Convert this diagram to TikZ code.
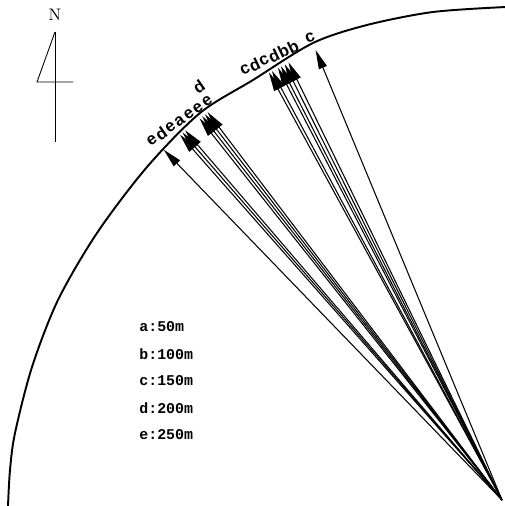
\documentclass[tikz,border=0pt]{standalone}
\usepackage{fontspec}
\usepackage{tikz}
\usetikzlibrary{arrows.meta,positioning}
\newfontfamily\tagfont{Liberation Sans}
\newfontfamily\legfont{Liberation Mono}

\begin{document}
\begin{tikzpicture}[
  x=0.02cm, y=0.02cm,
  node distance=0.54cm,
  rim/.style={line width=1.1pt},
  ray/.style={-{Triangle[length=3.8mm, width=1.7mm]}, line width=0.6pt},
  tag/.style={font=\tagfont\bfseries\fontsize{9.5}{10}\selectfont, inner sep=0pt},
  leg/.style={font=\legfont\bfseries\fontsize{8.5}{10}\selectfont, inner sep=0pt, anchor=west},
  compass/.style={line width=0.5pt}
]
  \useasboundingbox (0,0) rectangle (504,506);
  \coordinate (O) at (502,6);

  % shore line
  \draw[rim] plot[smooth, tension=0.5] coordinates {(8,0) (10,36) (15,73) (32,139) (58,206)
    (97,273) (147,339) (200,393) (253,426) (313,463) (367,481) (433,494) (506,499)};

  % north arrow
  \node[font=\fontsize{9.5}{10}\selectfont, inner sep=0pt] (north) at (55,491) {N};
  \coordinate (ntop) at (55,474);
  \coordinate (nfoot) at (55,364);
  \coordinate (nleft) at (37,424);
  \coordinate (nright) at (73,424);
  \draw[compass] (ntop) -- (nleft) -- (nright);
  \draw[compass] (ntop) -- (nfoot);

  % rays, west group then north group
  \foreach \ang [count=\i] in {134.0, 131.4, 131.0, 130.6, 128.4, 128.0, 127.6, 127.2,
                               118.6, 118.2, 117.4, 117.0, 116.5, 116.0, 112.5} {
    \coordinate (tip\i) at ([shift={(\ang:487)}]O);
    \draw[ray] (O) -- (tip\i);
  }

  % distance tags on the shore
  \foreach \txt [count=\i from 0] in {e, d, e, a, e, e, e} {
    \node[tag, rotate=35] (wtag\i) at (152+9.2*\i, 366+6.4*\i) {\txt};
  }
  \node[tag, rotate=35] (wtag7) at (199,419) {d};
  \foreach \txt [count=\i from 0] in {c, d, c, d, b, b} {
    \node[tag, rotate=26] (ntag\i) at (245+9.6*\i, 436+4.7*\i) {\txt};
  }
  \node[tag, rotate=22] (ntag6) at (310,468) {c};

  % legend
  \node[leg] (ka) at (139,179) {a:50m};
  \node[leg, below=of ka.west, anchor=west] (kb) {b:100m};
  \node[leg, below=of kb.west, anchor=west] (kc) {c:150m};
  \node[leg, below=of kc.west, anchor=west] (kd) {d:200m};
  \node[leg, below=of kd.west, anchor=west] (ke) {e:250m};
\end{tikzpicture}
\end{document}
